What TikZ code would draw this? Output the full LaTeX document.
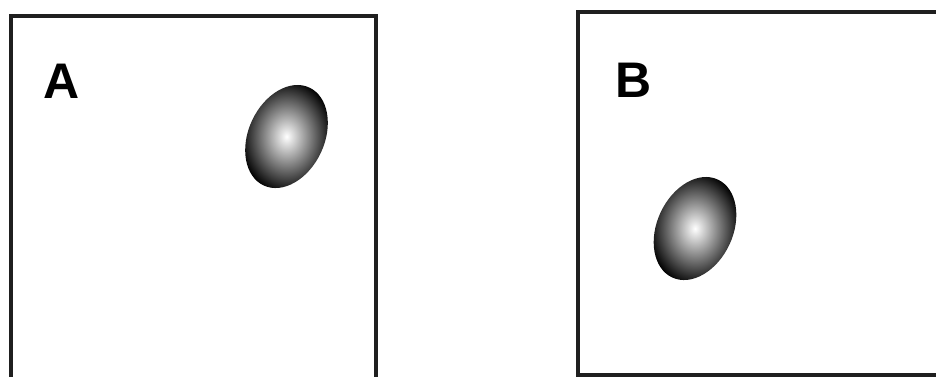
\documentclass[tikz,border=0pt]{standalone}
\usepackage{fontspec}
\setmainfont{Liberation Sans}
\begin{document}
\begin{tikzpicture}[x=1pt,y=-1pt,
  frame/.style={draw=black!88, line width=4pt},
  lab/.style={anchor=base west, inner sep=0pt, font=\fontsize{50}{60}\selectfont\bfseries},
  egg/.style={inner color=white, outer color=black}]
\useasboundingbox (0,0) rectangle (936,376);
\clip (0,0) rectangle (936,376);
% panel A
\draw[frame] (10.5,400) coordinate (a1) -- (10.5,16) -- (375.5,16) -- (375.5,400);
\node[lab] (la) at (43,98) {A};
\coordinate (ea) at (286.5,136.5);
\shade[egg, rotate around={-25:(ea)}] (ea) ellipse [x radius=38, y radius=54];
% panel B
\draw[frame] (960,12) -- (577.5,12) -- (577.5,374.5) -- (960,374.5);
\node[lab] (lb) at (615,97) {B};
\coordinate (eb) at (695,228.5);
\shade[egg, rotate around={-25:(eb)}] (eb) ellipse [x radius=38, y radius=54];
\end{tikzpicture}
\end{document}
